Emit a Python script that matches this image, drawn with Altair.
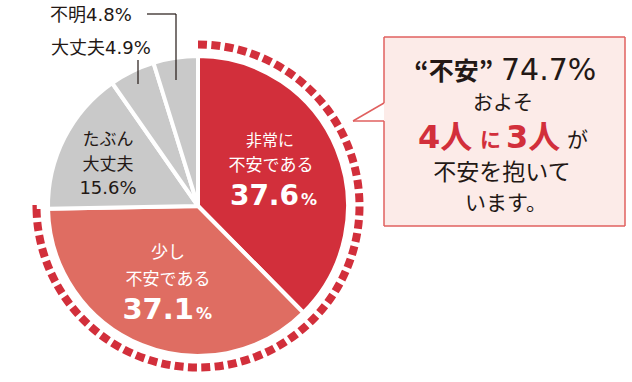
import altair as alt
import pandas as pd
import math

# ---- data ----
categories = ["非常に不安である", "少し不安である", "たぶん大丈夫", "大丈夫", "不明"]
values = [37.6, 37.1, 15.6, 4.9, 4.8]
colors = ["#D22F3B", "#DF6D62", "#C9C9C9", "#C9C9C9", "#C9C9C9"]
anxious_total = 74.7

FONT = "Noto Sans CJK JP"
NUMFONT = "DejaVu Sans, Noto Sans CJK JP"
DARK = "#231815"
RED = "#D22F3B"

CX, CY, R = 198, 206, 150
R_DASH = 161.5

pie_df = pd.DataFrame({"cat": categories, "value": values, "order": list(range(len(values)))})
theta_scale = alt.Scale(domain=[0, 100], range=[0, 6.283185307179586])

pie = alt.Chart(pie_df).mark_arc(stroke="white", strokeWidth=4).encode(
    theta=alt.Theta("value:Q", stack=True, scale=theta_scale),
    order=alt.Order("order:Q"),
    color=alt.Color("cat:N", scale=alt.Scale(domain=categories, range=colors), legend=None),
    x=alt.value(CX), y=alt.value(CY), radius=alt.value(R),
)

# dashed arc around the "anxious" share
arc_len = R_DASH * 2 * math.pi * anxious_total / 100
dash = 9.0
n = round((arc_len + 4.3) / (dash + 4.3))
gap = (arc_len - n * dash) / (n - 1)
dash_pattern = [dash, gap] * (n - 1) + [dash, 3000]

dash_df = pd.DataFrame({"start": [0.0], "end": [anxious_total]})
dashed = alt.Chart(dash_df).mark_arc(filled=False, stroke=RED, strokeWidth=8,
                                      strokeDash=dash_pattern).encode(
    theta=alt.Theta("start:Q", scale=theta_scale),
    theta2="end:Q",
    x=alt.value(CX), y=alt.value(CY), radius=alt.value(R_DASH),
)


def txt(s, x, y, size, color=DARK, weight="normal", align="center", font=FONT):
    return alt.Chart(pd.DataFrame({"label": [s]})).mark_text(
        font=font, fontSize=size, fontWeight=weight, color=color, align=align,
        baseline="alphabetic",
    ).encode(x=alt.value(x), y=alt.value(y), text="label:N")


def seg(x1, y1, x2, y2, color=DARK, w=1.2):
    return alt.Chart(pd.DataFrame({"k": [0]})).mark_rule(color=color, strokeWidth=w).encode(
        x=alt.value(x1), y=alt.value(y1), x2=alt.value(x2), y2=alt.value(y2))


labels = [
    txt("非常に", 270, 146, 16, "white"),
    txt("不安である", 271, 171, 17, "white"),
    txt("37.6", 299, 205, 28, "white", "bold", "right", NUMFONT),
    txt("%", 301, 205, 16, "white", "bold", "left", NUMFONT),
    txt("少し", 168, 258, 17, "white"),
    txt("不安である", 168, 285, 17, "white"),
    txt("37.1", 194, 319, 29, "white", "bold", "right", NUMFONT),
    txt("%", 196, 319, 16, "white", "bold", "left", NUMFONT),
    txt("たぶん", 108, 145, 17),
    txt("大丈夫", 108, 170, 17),
    txt("15.6%", 108, 194, 18, font=NUMFONT),
    txt("大丈夫4.9%", 51, 54, 18, align="left", font=NUMFONT),
    txt("不明4.8%", 50, 21, 18, align="left", font=NUMFONT),
]

leaders = [
    seg(147, 14, 176, 14),
    seg(176, 14, 176, 80),
    seg(138, 60, 138, 84),
]

# callout box
BOX_L, BOX_R, BOX_T, BOX_B = 384, 625, 37, 226
BOX_STROKE = "#E0605F"
box_fill = alt.Chart(pd.DataFrame({"k": [0]})).mark_rect(color="#FCEBE8").encode(
    x=alt.value(BOX_L), x2=alt.value(BOX_R), y=alt.value(BOX_T), y2=alt.value(BOX_B))
box_lines = [
    seg(BOX_L, BOX_T, BOX_R, BOX_T, BOX_STROKE, 1.5),
    seg(BOX_R, BOX_T, BOX_R, BOX_B, BOX_STROKE, 1.5),
    seg(BOX_L, BOX_B, BOX_R, BOX_B, BOX_STROKE, 1.5),
    seg(BOX_L, BOX_T, BOX_L, 103, BOX_STROKE, 1.5),
    seg(BOX_L, 121, BOX_L, BOX_B, BOX_STROKE, 1.5),
    seg(BOX_L, 103, 353, 121, BOX_STROKE, 1.5),
    seg(353, 121, BOX_L, 121, BOX_STROKE, 1.5),
]

callout = [
    txt("“不安”", 493, 80, 25, DARK, "bold", "right"),
    txt("74.7%", 501, 80, 30, DARK, "normal", "left", NUMFONT),
    txt("およそ", 503, 110, 20),
    txt("4人", 418, 148, 32, RED, "bold", "left", NUMFONT),
    txt("に", 480, 147, 21, RED, "bold", "left"),
    txt("3人", 506, 148, 32, RED, "bold", "left", NUMFONT),
    txt("が", 567, 147, 21, DARK, "normal", "left"),
    txt("不安を抱いて", 502, 180, 23),
    txt("います。", 465, 210, 21, align="left"),
]

chart = alt.layer(
    dashed, pie, *labels, *leaders, box_fill, *box_lines, *callout
).resolve_scale(theta="independent").properties(
    width=632, height=382, padding=0, autosize="none"
).configure_view(strokeWidth=0)

chart.save("out.html", embed_options={"renderer": "svg", "actions": False})
